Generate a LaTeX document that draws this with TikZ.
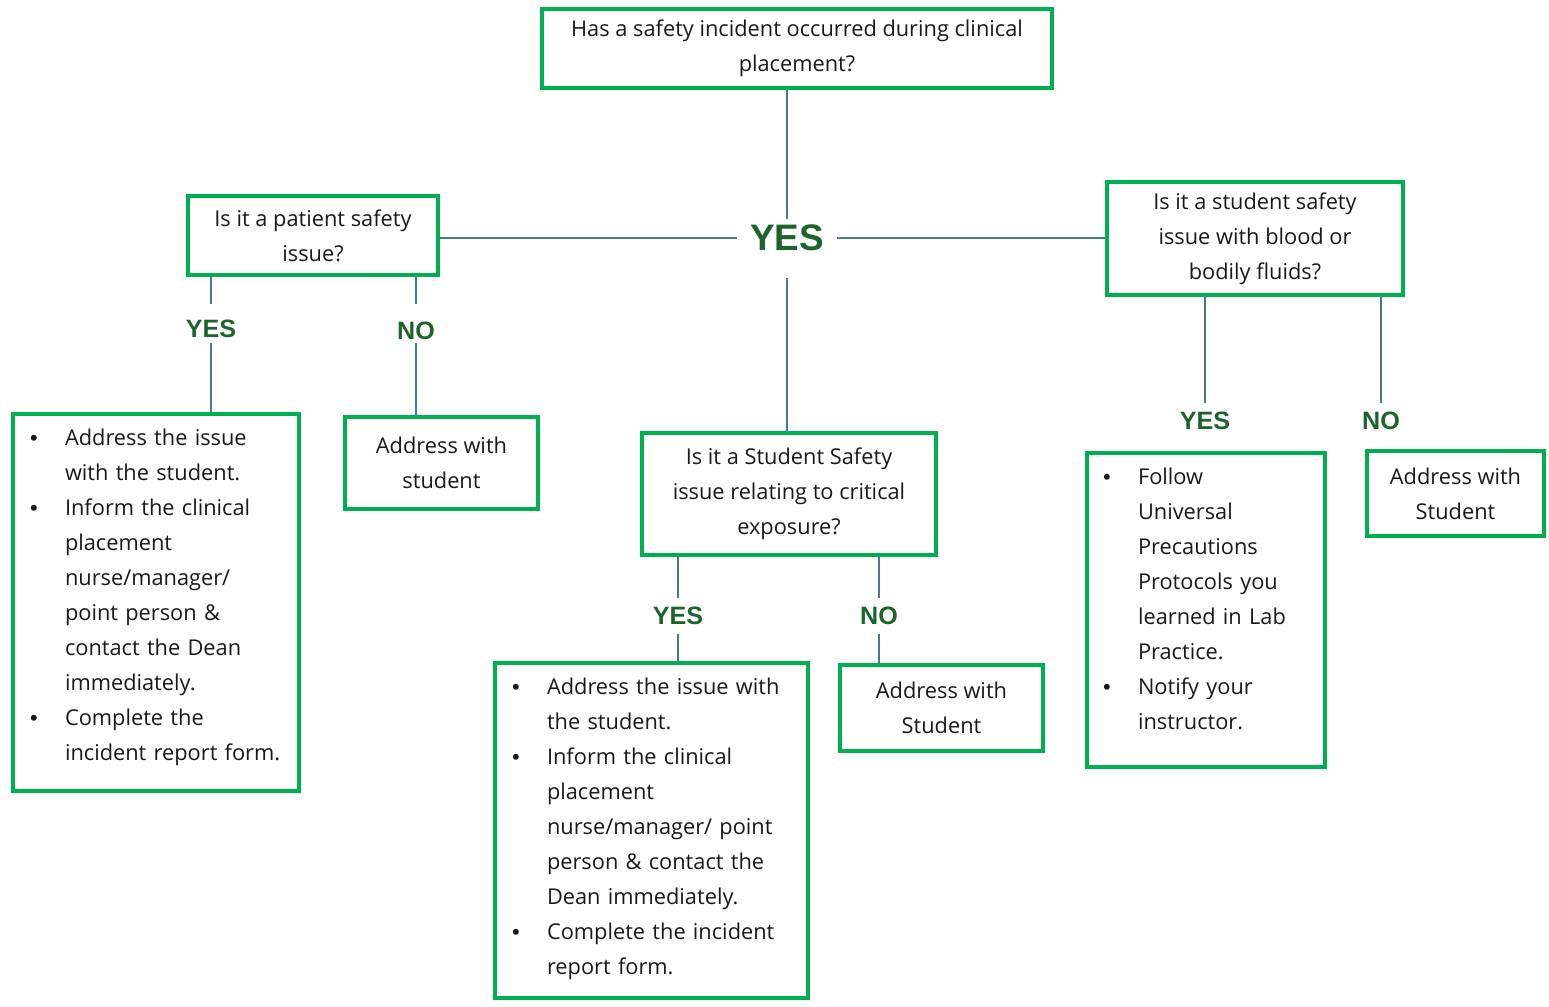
\documentclass[tikz,border=0pt]{standalone}
\usepackage{fontspec}
\setmainfont{Open Sans}
\newfontfamily\labelfont{Liberation Sans}
\usetikzlibrary{positioning}
\definecolor{boxgreen}{RGB}{0,176,80}
\definecolor{linkblue}{RGB}{70,120,155}
\definecolor{labelgreen}{RGB}{28,100,44}
\definecolor{bodytext}{RGB}{25,25,25}
\newcommand{\bodysize}{\fontsize{12.4}{19.9}\selectfont}
\newcommand{\answersize}{\labelfont\bfseries\fontsize{14.3}{17}\selectfont}
\newcommand{\dotmark}{{\labelfont\textbullet}}

\begin{document}
\begin{tikzpicture}[
    x=0.02cm, y=-0.02cm,
    question/.style={rectangle, draw=boxgreen, line width=2.3pt, align=center, font=\bodysize, text=bodytext, inner sep=0pt},
    listbox/.style={rectangle, draw=boxgreen, line width=2.3pt, align=left, font=\bodysize, text=bodytext, anchor=north west, inner xsep=0.2cm, inner ysep=0.15cm},
    answer/.style={text=labelgreen, font=\answersize, inner xsep=0pt, inner ysep=0.18cm},
    link/.style={draw=linkblue, line width=0.9pt}
]
\useasboundingbox (0,0) rectangle (1549,1007);

% Question
\node[question, minimum width=10.2cm, minimum height=1.58cm] (top) at (797,48.5) {Has a safety incident occurred during clinical\\placement?};

% Central answer
\node[answer, font=\labelfont\bfseries\fontsize{21}{24}\selectfont, inner xsep=0.26cm, inner ysep=0.12cm] (yes) at (787,238) {YES};

% Second level questions
\node[question, minimum width=5cm, minimum height=1.58cm] (patient) at (313,235.5) {Is it a patient safety\\issue?};
\node[question, minimum width=5.92cm, minimum height=2.26cm] (blood) at (1255,238.5) {Is it a student safety\\issue with blood or\\bodily fluids?};
\node[question, minimum width=5.88cm, minimum height=2.44cm] (critical) at (789,494) {Is it a Student Safety\\issue relating to critical\\exposure?};

% Answer labels
\node[answer] (patyes) at (211,329) {YES};
\node[answer] (patno) at (416,331) {NO};
\node[answer] (crityes) at (678,616) {YES};
\node[answer] (critno) at (879,616) {NO};
\node[answer] (bloodyes) at (1205,421) {YES};
\node[answer] (bloodno) at (1381,421) {NO};

% Actions
\node[listbox, text width=5.32cm] (leftlist) at (11,412) {%
\begin{tabular}{@{\hspace{0.14cm}}p{0.7cm}@{}l@{}}
\dotmark & Address the issue\\
 & with the student.\\
\dotmark & Inform the clinical\\
 & placement\\
 & nurse/manager/\\
 & point person \&\\
 & contact the Dean\\
 & immediately.\\
\dotmark & Complete the\\
 & incident report form.\\[0.24cm]
\end{tabular}};
\node[question, minimum width=3.86cm, minimum height=1.84cm] (leftno) at (441.5,463) {Address with\\student};

\node[listbox, text width=5.86cm] (cenlist) at (493,661) {%
\begin{tabular}{@{\hspace{0.14cm}}p{0.7cm}@{}l@{}}
\dotmark & Address the issue with\\
 & the student.\\
\dotmark & Inform the clinical\\
 & placement\\
 & nurse/manager/ point\\
 & person \& contact the\\
 & Dean immediately.\\
\dotmark & Complete the incident\\
 & report form.\\[0.1cm]
\end{tabular}};
\node[question, minimum width=4.06cm, minimum height=1.72cm] (cenno) at (941.5,708) {Address with\\Student};

\node[listbox, text width=4.36cm] (rightlist) at (1085,451) {%
\begin{tabular}{@{\hspace{0.12cm}}p{0.7cm}@{}l@{}}
\dotmark & Follow\\
 & Universal\\
 & Precautions\\
 & Protocols you\\
 & learned in Lab\\
 & Practice.\\
\dotmark & Notify your\\
 & instructor.\\[0.38cm]
\end{tabular}};
\node[question, minimum width=3.54cm, minimum height=1.7cm] (rightno) at (1455.5,493.5) {Address with\\Student};

% Connectors
\draw[link] (top.south -| yes) -- (yes.north);
\draw[link] (patient.east |- yes) -- (yes.west);
\draw[link] (yes.east) -- (blood.west |- yes);
\draw[link] ([yshift=-0.42cm]yes.south) -- (critical.north -| yes);

\draw[link] (patient.south -| patyes) -- ([yshift=0.14cm]patyes.north);
\draw[link] ([yshift=0.08cm]patyes.south) -- (leftlist.north -| patyes);
\draw[link] (patient.south -| patno) -- ([yshift=0.18cm]patno.north);
\draw[link] ([yshift=0.12cm]patno.south) -- (leftno.north -| patno);

\draw[link] (critical.south -| crityes) -- (crityes.north);
\draw[link] (crityes.south) -- (cenlist.north -| crityes);
\draw[link] (critical.south -| critno) -- (critno.north);
\draw[link] (critno.south) -- (cenno.north -| critno);

\draw[link] (blood.south -| bloodyes) -- (bloodyes.north);
\draw[link] (blood.south -| bloodno) -- (bloodno.north);

\end{tikzpicture}
\end{document}
